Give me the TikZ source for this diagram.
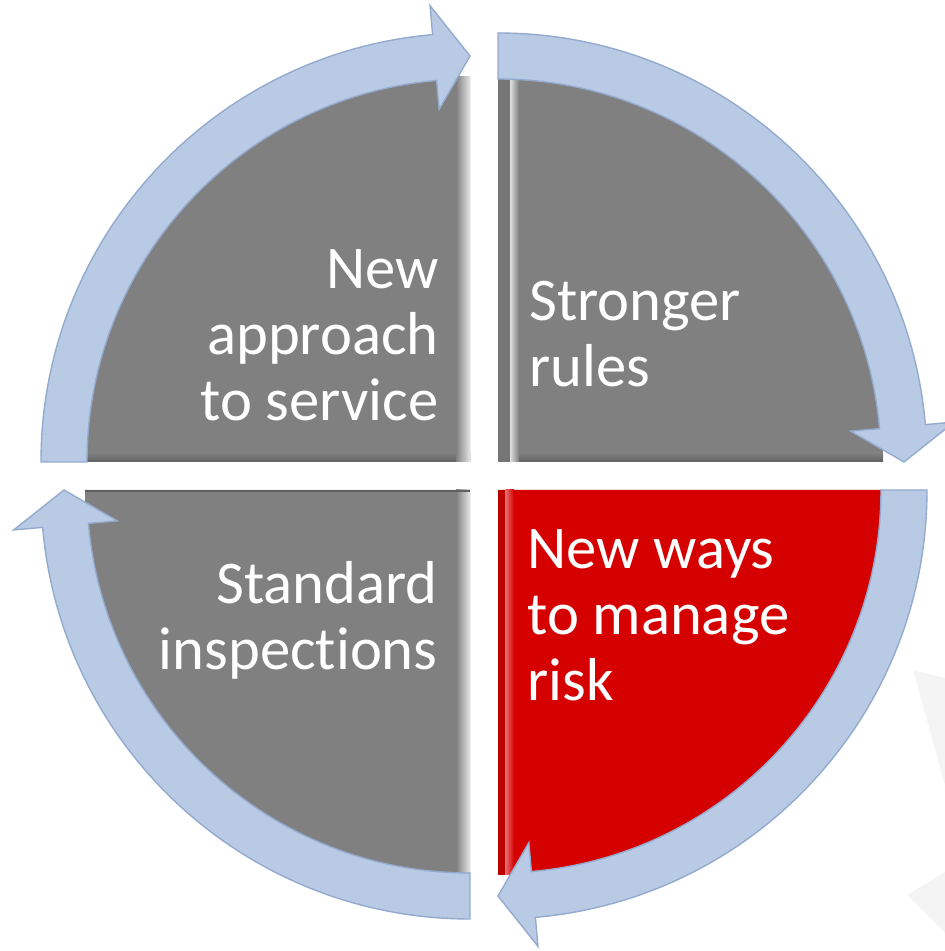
\documentclass[tikz,border=0pt]{standalone}
\usepackage{fontspec}
\setmainfont{Carlito}[Ligatures=NoCommon]
\usetikzlibrary{calc}

\definecolor{sectorgray}{RGB}{128,128,128}
\definecolor{riskred}{RGB}{213,0,0}
\definecolor{bandblue}{RGB}{185,203,228}
\definecolor{bandedge}{RGB}{148,170,206}
\definecolor{ghost}{RGB}{244,244,244}

% curved band arrow round one quadrant: centre, tail angle, head angle
\newcommand{\ringarrow}[3]{%
  \draw[band] ($(#1)+(#2:429)$) arc[start angle=#2, end angle=#3+5, radius=429]
    -- ($(#1)+(#3+5:458)$) -- ($(#1)+(#3:406)$) -- ($(#1)+(#3+5:354)$)
    -- ($(#1)+(#3+5:383)$) arc[start angle=#3+5, end angle=#2, radius=383] -- cycle;
}

\begin{document}
\begin{tikzpicture}[x=0.02cm, y=0.02cm,
    band/.style={fill=bandblue, draw=bandedge, line width=0.8pt, line join=miter},
    quadtext/.style={text=white, inner sep=0pt, font=\fontsize{34.5}{37.5}\selectfont}]
    \useasboundingbox (0,0) rectangle (945,951);

    % Quadrant corners
    \coordinate (tl) at (470,489);
    \coordinate (tr) at (498,489);
    \coordinate (br) at (498,461);
    \coordinate (bl) at (470,461);

    % Faint shapes at the right edge
    \fill[ghost] (913,281) -- (945,273) -- (945,166) -- cycle;
    \fill[ghost] (907,56) -- (945,79) -- (945,18) -- cycle;

    % Quarter discs
    \foreach \c/\a/\col in {tl/180/sectorgray, tr/90/sectorgray, br/0/riskred, bl/-90/sectorgray} {
        \fill[fill=\col] (\c) -- ++(\a:385) arc[start angle=\a, end angle=\a-90, radius=385] -- cycle;
    }

    % Bevels on the straight edges
    \shade[top color=sectorgray, bottom color=sectorgray!75!black] (85,489) rectangle (470,498);
    \shade[top color=sectorgray, bottom color=sectorgray!75!black] (498,489) rectangle (883,498);
    \shade[left color=sectorgray, right color=white!80!sectorgray] (456,489) rectangle (470,874);
    \shade[left color=sectorgray, right color=white!80!sectorgray] (456,76) rectangle (470,461);
    \fill[sectorgray!92!black] (498,489) rectangle (510,874);
    \shade[left color=white!75!sectorgray, right color=sectorgray] (510,489) rectangle (519,874);
    \fill[riskred!88!black] (498,76) rectangle (505,461);
    \shade[left color=riskred!55!white, right color=riskred] (505,76) rectangle (514,461);
    \draw[sectorgray!75!black, line width=0.8pt] (85,460) -- (470,460);

    % Band arrows, clockwise
    \foreach \c/\a in {tl/180, tr/90, br/0, bl/-90} {
        \ringarrow{\c}{\a}{\a-90}
    }

    % Texts
    \node[quadtext, anchor=north east, align=right] (service) at (439,702) {New\\approach\\to service};
    \node[quadtext, anchor=north west, align=left] (rules) at (529,670) {Stronger\\rules};
    \node[quadtext, anchor=north east, align=right] (inspect) at (438,390) {Standard\\inspections};
    \node[quadtext, anchor=north west, align=left] (risk) at (527,422) {New ways\\to manage\\risk};
\end{tikzpicture}
\end{document}
